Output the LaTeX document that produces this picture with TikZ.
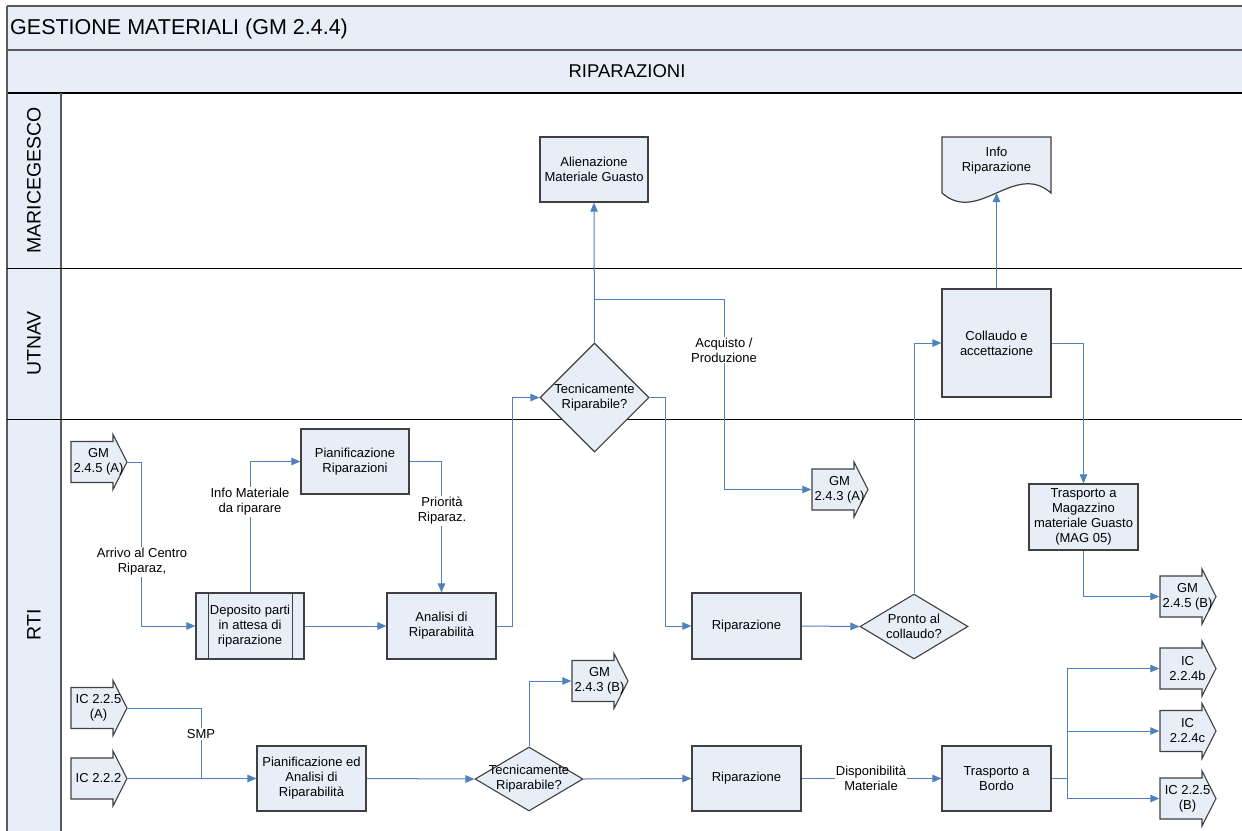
\documentclass[tikz,border=0pt]{standalone}
\usepackage{fontspec}
\setmainfont{Liberation Sans}
\usetikzlibrary{arrows.meta,shapes.geometric,calc}
\definecolor{fillc}{RGB}{232,238,247}
\definecolor{boxc}{RGB}{64,64,64}
\definecolor{connc}{RGB}{79,129,189}
\definecolor{framec}{RGB}{90,90,90}
\newcommand{\fs}{\fontsize{13}{15}\selectfont}
\newcommand{\offpg}[4]{%
  \draw[offp] (#2,#3-20.5) -- (#2+42,#3-20.5) -- (#2+42,#3-27.5) -- (#2+56,#3)
     -- (#2+42,#3+27.5) -- (#2+42,#3+20.5) -- (#2,#3+20.5) -- cycle;
  \node[optxt] (#1) at (#2+27.5,#3) {#4};
}
\tikzset{
  box/.style={draw=boxc, fill=fillc, line width=1.2pt, minimum width=109pt,
    minimum height=65pt, align=center, font=\fs, inner sep=2pt},
  dia/.style={diamond, draw=boxc, fill=fillc, line width=1.1pt, inner sep=0pt},
  offp/.style={draw=boxc, fill=fillc, line width=1.1pt},
  optxt/.style={minimum width=56pt, minimum height=41pt, inner sep=0pt,
    align=center, font=\fs},
  txt/.style={align=center, font=\fs, inner sep=0pt},
  elbl/.style={fill=white, align=center, font=\fs, inner sep=1pt},
  conn/.style={draw=connc, line width=1pt, -{Triangle[length=9pt,width=7.5pt]}},
  plain/.style={draw=connc, line width=1pt},
  lane/.style={draw=black, line width=1pt},
  lanetxt/.style={font=\fontsize{19.5}{21}\selectfont, rotate=90}
}
\begin{document}
\begin{tikzpicture}[x=1pt,y=-1pt]
\useasboundingbox (0,0) rectangle (1242,830);
\clip (0,0) rectangle (1242,830);
% ---- frame and lanes ----
\fill[fillc] (7,6) rectangle (1250,93);
\fill[fillc] (7,93) rectangle (61,840);
\draw[framec, line width=1.6pt] (7,6) -- (1250,6);
\draw[framec, line width=1.6pt] (7,50) -- (1250,50);
\draw[black, line width=1.2pt] (7,93) -- (1250,93);
\draw[framec, line width=1.6pt] (7,6) -- (7,840);
\draw[framec, line width=1.6pt] (61,93) -- (61,840);
\draw[lane] (7,268) -- (1250,268);
\draw[lane] (7,419) -- (1250,419);
\node[anchor=west, font=\fontsize{21.5}{23}\selectfont, inner sep=0pt] (title) at (10,28.5) {GESTIONE MATERIALI (GM 2.4.4)};
\node[font=\fontsize{18.5}{20}\selectfont, inner sep=0pt] (sub) at (627,71.5) {RIPARAZIONI};
\node[lanetxt] (l1) at (34,180.5) {MARICEGESCO};
\node[lanetxt] (l2) at (34,343.5) {UTNAV};
\node[lanetxt] (l3) at (34,625) {RTI};
% ---- MARICEGESCO ----
\node[box, minimum width=108pt, minimum height=65pt] (alien) at (594,169.5) {Alienazione\\Materiale Guasto};
\draw[offp, line width=1.2pt] (942,137) -- (1051,137) -- (1051,193)
   .. controls (1015,161) and (978,225) .. (942,193) -- cycle;
\node[txt] (info) at (996.5,160.5) {Info\\Riparazione};
\coordinate (infob) at (996.5,193);
% ---- UTNAV ----
\node[box, minimum height=108pt] (coll) at (996.5,343) {Collaudo e\\accettazione};
\node[dia, minimum width=109pt, minimum height=109pt] (tr1) at (594.5,397.5) {};
\node[txt] (tr1t) at (tr1.center) {Tecnicamente\\Riparabile?};
% ---- RTI upper ----
\offpg{gmA}{71}{462}{GM\\2.4.5 (A)}
\node[box, minimum width=108pt] (pian) at (355,461.5) {Pianificazione\\Riparazioni};
\node[box, minimum width=108pt, minimum height=66pt] (dep) at (250,626) {Deposito parti\\in attesa di\\riparazione};
\draw[draw=boxc, line width=1.2pt] ($(dep.north west)+(13,0)$) -- ($(dep.south west)+(13,0)$);
\draw[draw=boxc, line width=1.2pt] ($(dep.north east)+(-12,0)$) -- ($(dep.south east)+(-12,0)$);
\node[box, minimum height=66pt] (anal) at (441.5,626) {Analisi di\\Riparabilità};
\node[box, minimum height=66pt] (rip1) at (746.5,626) {Riparazione};
\node[dia, minimum width=108pt, minimum height=65pt] (pronto) at (914,626.5) {};
\node[txt] (prontot) at (pronto.center) {Pronto al\\collaudo?};
\offpg{gm243a}{812}{489.5}{GM\\2.4.3 (A)}
\node[box, minimum height=66pt] (trmag) at (1083.5,517) {Trasporto a\\Magazzino\\materiale Guasto\\(MAG 05)};
\offpg{gm245b}{1160}{596.5}{GM\\2.4.5 (B)}
% ---- RTI lower ----
\offpg{ic225a}{71}{708}{IC 2.2.5\\(A)}
\offpg{ic222}{71}{778.5}{IC 2.2.2}
\node[box] (pianan) at (311.5,778.5) {Pianificazione ed\\Analisi di\\Riparabilità};
\node[dia, minimum width=108pt, minimum height=64pt] (tr2) at (529,779) {};
\node[txt] (tr2t) at (tr2.center) {Tecnicamente\\Riparabile?};
\offpg{gm243b}{572}{681}{GM\\2.4.3 (B)}
\node[box] (rip2) at (746.5,778.5) {Riparazione};
\node[box] (trb) at (996.5,778.5) {Trasporto a\\Bordo};
\offpg{ic224b}{1160}{668.5}{IC\\2.2.4b}
\offpg{ic224c}{1160}{731}{IC\\2.2.4c}
\offpg{ic225b}{1160}{798.5}{IC 2.2.5\\(B)}
% ---- connectors ----
\draw[conn] (gmA.east) -- ++(15,0) |- (dep.west);
\node[elbl] (lab1) at (142,562) {Arrivo al Centro\\Riparaz,};
\draw[conn] (dep.north) |- (pian.west);
\node[elbl] (lab2) at (250,502) {Info Materiale\\da riparare};
\draw[conn] (pian.east) -| (anal.north);
\node[elbl] (lab3) at (442,511) {Priorità\\Riparaz.};
\draw[conn] (dep.east) -- (anal.west);
\draw[conn] (anal.east) -- ++(16,0) |- (tr1.west);
\draw[conn] (tr1.north) -- (alien.south);
\coordinate (br) at (594.5,299.5);
\coordinate (acq) at (724,299.5);
\draw[conn] (br) -- (acq) |- (gm243a.west);
\node[elbl] (lab4) at (724,350) {Acquisto /\\Produzione};
\draw[conn] (tr1.east) -- ++(16,0) |- (rip1.west);
\draw[conn] (rip1.east) -- (pronto.west);
\draw[conn] (pronto.north) |- (coll.west);
\draw[conn] (coll.north) -- (infob);
\draw[conn] (coll.east) -| (trmag.north);
\draw[conn] (trmag.south) |- (gm245b.west);
\coordinate (smpj) at (201,778.5);
\draw[plain] (ic225a.east) -| (smpj);
\node[elbl] (lab5) at (201,734) {SMP};
\draw[conn] (ic222.east) -- (pianan.west);
\draw[conn] (pianan.east) -- (tr2.west);
\draw[conn] (tr2.north) |- (gm243b.west);
\draw[conn] (tr2.east) -- (rip2.west);
\draw[conn] (rip2.east) -- (trb.west);
\node[elbl] (lab6) at (871,778) {Disponibilità\\Materiale};
\draw[plain] (trb.east) -- ++(16,0) coordinate (fork);
\draw[conn] (fork) |- (ic224b.west);
\draw[conn] (fork) |- (ic224c.west);
\draw[conn] (fork) |- (ic225b.west);
\end{tikzpicture}
\end{document}
